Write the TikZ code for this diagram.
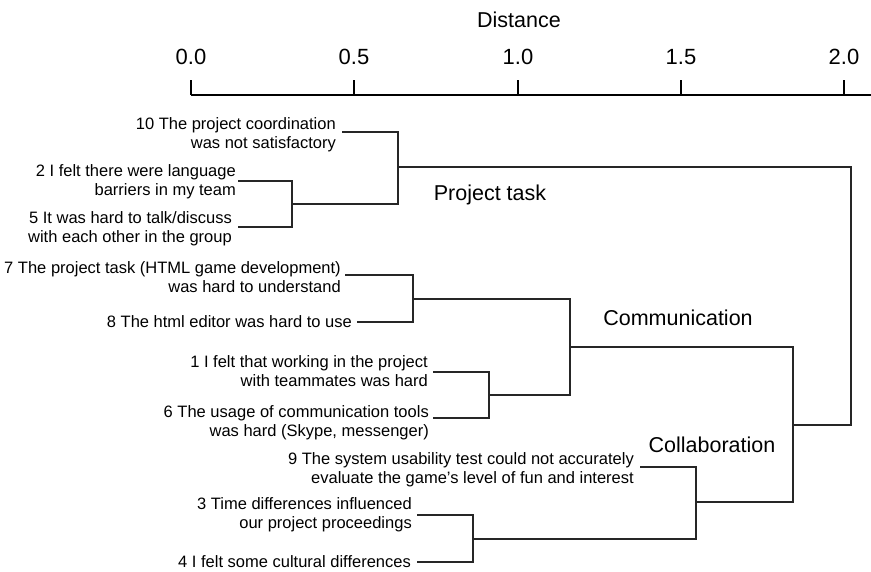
\documentclass[tikz,border=0pt]{standalone}
\usepackage{fontspec}
\setmainfont{Liberation Sans}
\usepackage{tikz}
\usetikzlibrary{positioning}
\newcommand{\leaffont}{\fontsize{16.5}{19}\selectfont}
\newcommand{\axisfont}{\fontsize{22}{26}\selectfont}
\newcommand{\groupfont}{\fontsize{21.5}{26}\selectfont}

\begin{document}
\begin{tikzpicture}[
  x=1pt, y=-1pt,
  leaf/.style={font=\leaffont, align=right, inner sep=0pt},
  link/.style={line width=1.2pt, draw=black!85},
  group/.style={font=\groupfont, anchor=base, inner sep=0pt},
  ticklabel/.style={font=\axisfont, anchor=base, inner sep=0pt},
]
\useasboundingbox (0,0) rectangle (871,571);

% Axis
\node[group] (dist) at (519,27) {Distance};
\draw[link, draw=black] (191,95) -- (871,95);
\foreach \v/\x [count=\i] in {0.0/191, 0.5/354, 1.0/518, 1.5/681, 2.0/844} {
  \draw[link, draw=black] (\x,80) -- (\x,95);
  \node[ticklabel] (tick\i) at (\x,64) {\v};
}

% Leaf ends
\coordinate (e10) at (342,132);
\coordinate (e2) at (238,181);
\coordinate (e5) at (238,227);
\coordinate (e7) at (345,275);
\coordinate (e8) at (357,322);
\coordinate (e1) at (433,372);
\coordinate (e6) at (433,418);
\coordinate (e9) at (640,467);
\coordinate (e3) at (417,515);
\coordinate (e4) at (417,562);

% Leaf labels (base = last line)
\node[leaf, base left=6pt of e10, yshift=-16pt] (t10) {10 The project coordination\\was not satisfactory};
\node[leaf, base left=2pt of e2, yshift=-14pt] (t2) {2 I felt there were language\\barriers in my team};
\node[leaf, base left=6pt of e5, yshift=-15pt] (t5) {5 It was hard to talk/discuss\\with each other in the group};
\node[leaf, base left=4pt of e7, yshift=-17pt] (t7) {7 The project task (HTML game development)\\was hard to understand};
\node[leaf, left=5pt of e8] (t8) {8 The html editor was hard to use};
\node[leaf, base left=5pt of e1, yshift=-14pt] (t1) {1 I felt that working in the project\\with teammates was hard};
\node[leaf, base left=4pt of e6, yshift=-18pt] (t6) {6 The usage of communication tools\\was hard (Skype, messenger)};
\node[leaf, base left=6pt of e9, yshift=-16pt] (t9) {9 The system usability test could not accurately\\evaluate the game's level of fun and interest};
\node[leaf, base left=5pt of e3, yshift=-13pt] (t3) {3 Time differences influenced\\our project proceedings};
\node[leaf, left=6pt of e4] (t4) {4 I felt some cultural differences};

% Merge points
\coordinate (m25) at (292,204);
\coordinate (m10) at (398,167);
\coordinate (m78) at (413,299);
\coordinate (m16) at (489,395);
\coordinate (mcomm) at (570,347);
\coordinate (m34) at (473,539);
\coordinate (m9) at (696,502);
\coordinate (mcol) at (793,425);
\coordinate (root) at (851,296);

\draw[link] (e2) -| (m25) |- (e5);
\draw[link] (e10) -| (m10) |- (m25);
\draw[link] (e7) -| (m78) |- (e8);
\draw[link] (e1) -| (m16) |- (e6);
\draw[link] (m78) -| (mcomm) |- (m16);
\draw[link] (e3) -| (m34) |- (e4);
\draw[link] (e9) -| (m9) |- (m34);
\draw[link] (mcomm) -| (mcol) |- (m9);
\draw[link] (m10) -| (root) |- (mcol);

% Cluster names
\node[group] (gproj) at (490,200) {Project task};
\node[group] (gcomm) at (678,325) {Communication};
\node[group] (gcoll) at (712,452) {Collaboration};
\end{tikzpicture}
\end{document}
